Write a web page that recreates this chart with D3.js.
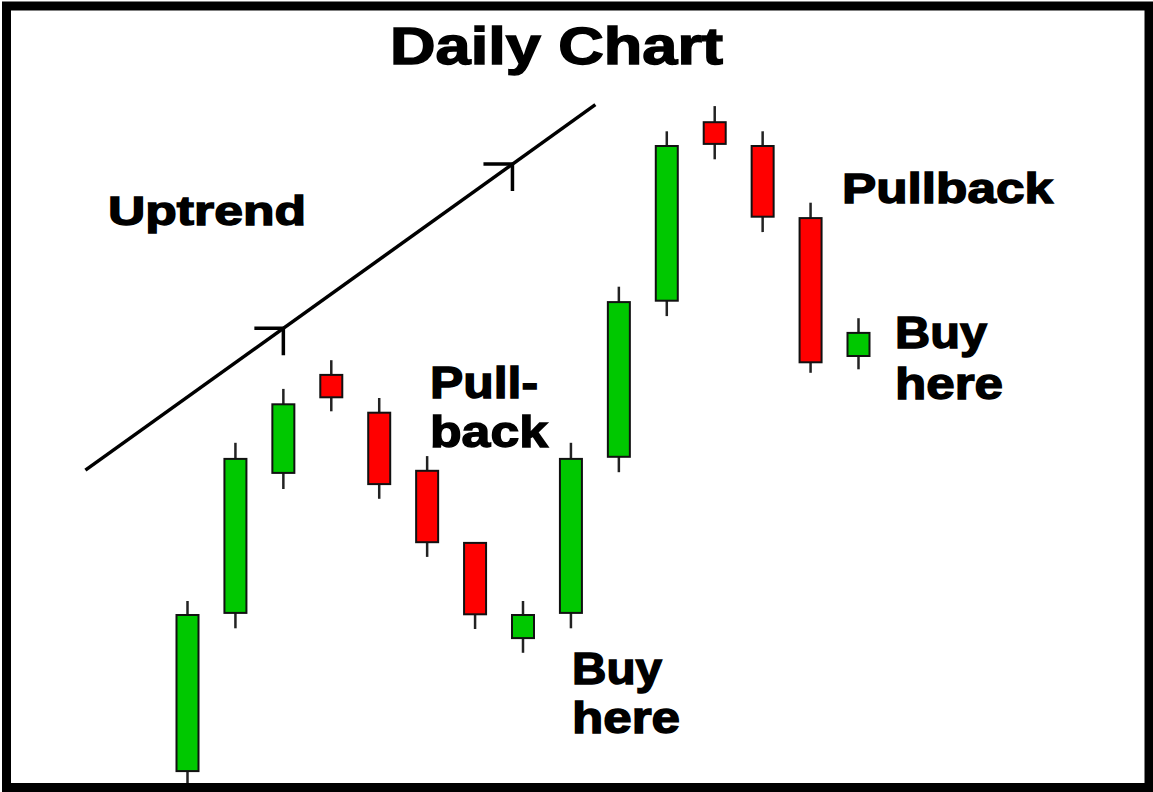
<!DOCTYPE html>
<html>
<head>
<meta charset="utf-8">
<script src="https://cdn.jsdelivr.net/npm/d3@7"></script>
<style>
  html, body { margin: 0; padding: 0; background: #fff; }
</style>
</head>
<body>
<div id="chart"></div>
<script>
// candle data, day index 0..14
const opens  = [2.7, 25.3, 45.3, 59.3, 53.9, 45.6, 35.3, 21.7, 25.3, 47.6, 69.9, 95.4, 92.0, 81.7, 62.0]
const closes = [25.0, 47.3, 55.1, 56.1, 43.7, 35.4, 25.1, 25.0, 47.3, 69.7, 92.0, 92.3, 81.9, 61.1, 65.3]
const highs  = [27.0, 49.6, 57.3, 61.4, 56.0, 47.7, 35.3, 27.0, 49.6, 71.9, 94.1, 97.7, 94.1, 83.9, 67.4]
const lows   = [1.0, 23.1, 43.0, 54.1, 41.6, 33.3, 23.0, 19.6, 23.1, 45.4, 67.7, 90.1, 79.7, 59.6, 60.1]

// trend line (day, price) and its arrow marks
const trendDays = [-2.13, 8.51]
const trendPrices = [45.7, 97.9]
const arrowDays = [2.0, 6.78]

const W = 1153, H = 792
const svg = d3.select('#chart').append('svg').attr('width', W).attr('height', H)

svg.append('rect').attr('width', W).attr('height', H).attr('fill', '#fff')

const x = d3.scaleLinear().domain([0, 14]).range([187.5, 858.5])
const y = d3.scaleLinear().domain([0, 100]).range([790, 90])

const candles = opens.map((o, i) => ({ i, o, c: closes[i], h: highs[i], l: lows[i] }))
const bodyW = 22

const g = svg.append('g')

// wicks
g.selectAll('.wick')
    .data(candles).enter()
    .append('line')
    .attr('x1', d => x(d.i)).attr('x2', d => x(d.i))
    .attr('y1', d => y(d.h)).attr('y2', d => y(d.l))
    .attr('stroke', '#222')
    .attr('stroke-width', 2.5)

// bodies
g.selectAll('.body')
    .data(candles).enter()
    .append('rect')
    .attr('x', d => x(d.i) - bodyW / 2)
    .attr('y', d => y(Math.max(d.o, d.c)))
    .attr('width', bodyW)
    .attr('height', d => Math.abs(y(d.o) - y(d.c)))
    .attr('fill', d => d.c >= d.o ? '#00c800' : '#ff0000')
    .attr('stroke', '#111')
    .attr('stroke-width', 2)

// trend line
const tline = d3.line().x(d => x(d[0])).y(d => y(d[1]))
svg.append('path')
    .attr('d', tline(trendDays.map((d, i) => [d, trendPrices[i]])))
    .attr('fill', 'none')
    .attr('stroke', '#000')
    .attr('stroke-width', 3.5)

const slope = (trendPrices[1] - trendPrices[0]) / (trendDays[1] - trendDays[0])
arrowDays.forEach(d => {
    const px = x(d)
    const py = y(trendPrices[0] + slope * (d - trendDays[0]))
    svg.append('path')
        .attr('d', `M${px - 29},${py} L${px},${py} L${px},${py + 27}`)
        .attr('fill', 'none')
        .attr('stroke', '#000')
        .attr('stroke-width', 3.5)
})

// labels
const labels = [
    { t: 'Daily Chart', x: 390, y: 64, len: 333, size: 51 },
    { t: 'Uptrend', x: 108, y: 225, len: 198, size: 41 },
    { t: 'Pullback', x: 842, y: 203, len: 211, size: 42 },
    { t: 'Pull-', x: 430, y: 398, len: 108, size: 45 },
    { t: 'back', x: 430, y: 447, len: 118, size: 45 },
    { t: 'Buy', x: 572, y: 684, len: 90, size: 44 },
    { t: 'here', x: 572, y: 733, len: 108, size: 44 },
    { t: 'Buy', x: 895, y: 348, len: 92, size: 44 },
    { t: 'here', x: 895, y: 399, len: 108, size: 44 }
]
svg.selectAll('.label')
    .data(labels).enter()
    .append('text')
    .attr('x', d => d.x)
    .attr('y', d => d.y)
    .attr('textLength', d => d.len)
    .attr('lengthAdjust', 'spacingAndGlyphs')
    .attr('font-family', '"Liberation Sans", Arial, sans-serif')
    .attr('font-weight', 'bold')
    .attr('font-size', d => d.size + 'px')
    .attr('fill', '#000')
    .attr('stroke', '#000')
    .attr('stroke-width', 1.4)
    .text(d => d.t)

// frame
svg.append('rect')
    .attr('x', 6.5).attr('y', 6)
    .attr('width', 1142.5).attr('height', 781.5)
    .attr('fill', 'none')
    .attr('stroke', '#000')
    .attr('stroke-width', 9)
</script>
</body>
</html>
